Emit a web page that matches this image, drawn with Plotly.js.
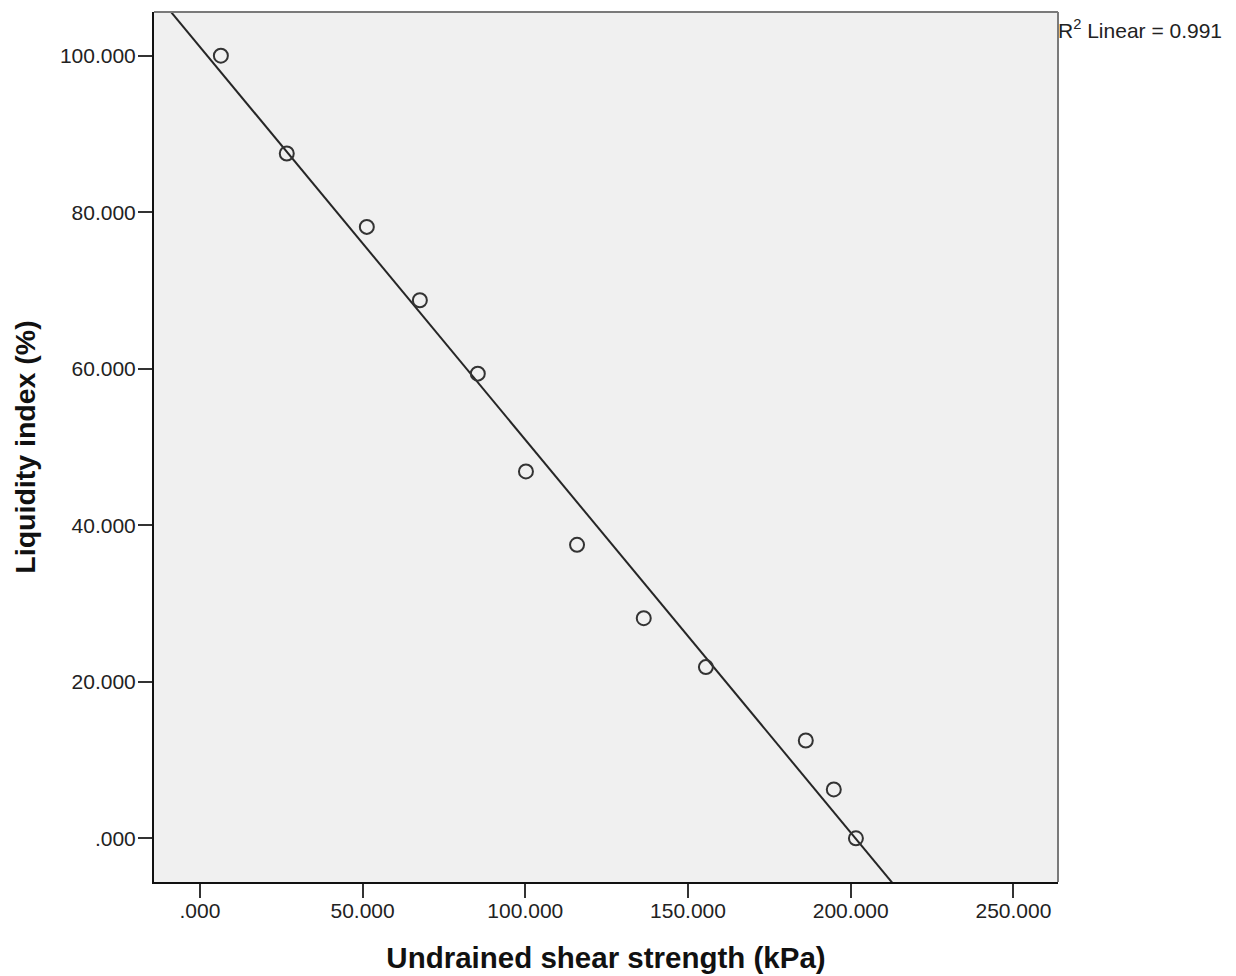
<!DOCTYPE html>
<html>
<head>
<meta charset="utf-8">
<script src="https://cdn.plot.ly/plotly-3.0.1.min.js"></script>
<style>html,body{margin:0;padding:0;background:#fff;}#chart{width:1236px;height:976px;}</style>
</head>
<body>
<div id="chart"></div>
<script>
// Data
const shearStrength = [6.45, 26.7, 51.3, 67.6, 85.4, 100.2, 115.9, 136.4, 155.5, 186.2, 194.8, 201.6];
const liquidityIndex = [100, 87.5, 78.125, 68.75, 59.375, 46.875, 37.5, 28.125, 21.875, 12.5, 6.25, 0];
const xTickVals = [0, 50, 100, 150, 200, 250];
const xTickText = ['.000', '50.000', '100.000', '150.000', '200.000', '250.000'];
const yTickVals = [0, 20, 40, 60, 80, 100];
const yTickText = ['.000', '20.000', '40.000', '60.000', '80.000', '100.000'];
const xTitle = 'Undrained shear strength (kPa)';
const yTitle = 'Liquidity index (%)';
const fitLabel = 'R<sup>2</sup> Linear = 0.991';
const xRange = [-14.1, 263.7];
const yRange = [-5.58, 105.58];

// Least-squares linear fit computed from the data
const n = shearStrength.length;
const mx = shearStrength.reduce((a, b) => a + b, 0) / n;
const my = liquidityIndex.reduce((a, b) => a + b, 0) / n;
let sxy = 0, sxx = 0;
for (let i = 0; i < n; i++) {
  sxy += (shearStrength[i] - mx) * (liquidityIndex[i] - my);
  sxx += (shearStrength[i] - mx) ** 2;
}
const slope = sxy / sxx;
const intercept = my - slope * mx;
const fitX = [xRange[0], xRange[1]];
const fitY = fitX.map(x => intercept + slope * x);

const font = 'Liberation Sans, Arial, sans-serif';

const traces = [
  {
    x: fitX, y: fitY, mode: 'lines', type: 'scatter',
    line: {color: '#262626', width: 2},
    hoverinfo: 'skip', showlegend: false
  },
  {
    x: shearStrength, y: liquidityIndex, mode: 'markers', type: 'scatter',
    marker: {symbol: 'circle-open', size: 14, color: '#333333', line: {width: 2, color: '#333333'}},
    showlegend: false
  }
];

const layout = {
  width: 1236, height: 976,
  margin: {l: 154, r: 178, t: 12, b: 94, pad: 0},
  paper_bgcolor: '#ffffff',
  plot_bgcolor: '#f0f0f0',
  showlegend: false,
  font: {family: font, color: '#222222'},
  xaxis: {
    range: xRange, autorange: false,
    tickvals: xTickVals, ticktext: xTickText,
    ticks: 'outside', ticklen: 14, tickwidth: 2, tickcolor: '#333333',
    ticklabelstandoff: -5,
    tickfont: {family: font, size: 21, color: '#222222'},
    showgrid: false, zeroline: false,
    showline: true, linecolor: '#111111', linewidth: 2, mirror: false,
    automargin: false,
    title: {text: xTitle, font: {family: font, size: 29.5, color: '#111111', weight: 'bold'}, standoff: 26}
  },
  yaxis: {
    range: yRange, autorange: false,
    tickvals: yTickVals, ticktext: yTickText,
    ticks: 'outside', ticklen: 14, tickwidth: 2, tickcolor: '#333333',
    ticklabelstandoff: -2,
    tickfont: {family: font, size: 21, color: '#222222'},
    showgrid: false, zeroline: false,
    showline: true, linecolor: '#111111', linewidth: 2, mirror: false,
    automargin: false,
    title: {text: yTitle, font: {family: font, size: 28.5, color: '#111111', weight: 'bold'}, standoff: 16}
  },
  shapes: [
    {type: 'line', xref: 'paper', yref: 'paper', x0: 0, x1: 1, y0: 1, y1: 1, line: {color: '#7a7a7a', width: 2}},
    {type: 'line', xref: 'paper', yref: 'paper', x0: 1, x1: 1, y0: 0, y1: 1, line: {color: '#7a7a7a', width: 2}}
  ],
  annotations: [
    {
      text: fitLabel, xref: 'paper', yref: 'paper', x: 1, y: 1,
      xanchor: 'left', yanchor: 'top', showarrow: false, xshift: -2, yshift: -2,
      font: {family: font, size: 21, color: '#222222'}
    }
  ]
};

Plotly.newPlot('chart', traces, layout, {staticPlot: true, displayModeBar: false});
</script>
</body>
</html>
